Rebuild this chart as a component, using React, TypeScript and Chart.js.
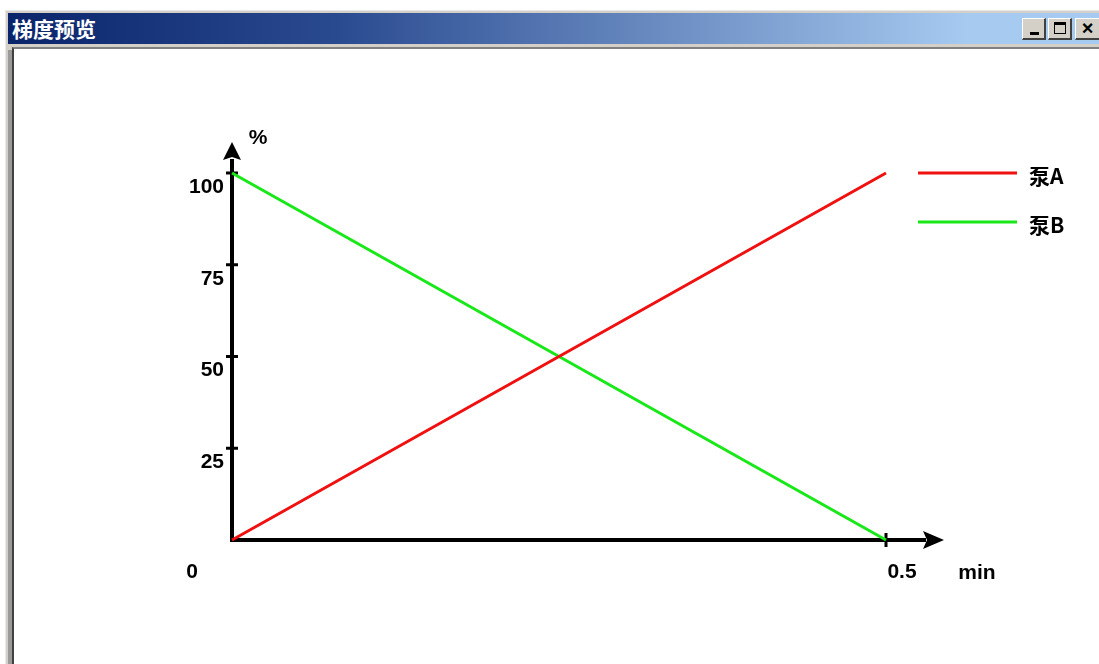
import React, { useEffect, useRef } from "react";
import { Chart, registerables } from "chart.js";

Chart.register(...registerables);

const windowTitle = "梯度预览";
const timeMin = [0, 0.5];
const pumpA = [0, 100];
const pumpB = [100, 0];
const seriesNames = ["泵A", "泵B"];
const seriesColors = ["#f01010", "#18e818"];
const yTickValues = [0, 25, 50, 75, 100];
const xTickLabels = ["0", "0.5"];
const yUnit = "%";
const xUnit = "min";

const LABEL_FONT = "bold 21px 'Liberation Sans', Arial, sans-serif";
const CJK_FONT = "bold 21px 'Noto Sans CJK SC', 'Liberation Sans', sans-serif";

const axesPlugin = {
  id: "gradAxes",
  beforeDatasetsDraw(chart: any) {
    const { ctx, scales } = chart;
    const xs = scales.x;
    const ys = scales.y;
    const x0 = xs.getPixelForValue(timeMin[0]);
    const x1 = xs.getPixelForValue(timeMin[timeMin.length - 1]);
    const y0 = ys.getPixelForValue(0);
    const yTop = ys.getPixelForValue(100);
    ctx.save();
    ctx.strokeStyle = "#000";
    ctx.fillStyle = "#000";
    ctx.lineWidth = 4;
    ctx.lineCap = "butt";
    // y axis
    ctx.beginPath();
    ctx.moveTo(x0, y0 + 2);
    ctx.lineTo(x0, yTop - 14);
    ctx.stroke();
    // y arrow
    ctx.beginPath();
    ctx.moveTo(x0, yTop - 31);
    ctx.lineTo(x0 + 9, yTop - 13);
    ctx.lineTo(x0, yTop - 16);
    ctx.lineTo(x0 - 9, yTop - 13);
    ctx.closePath();
    ctx.fill();
    // x axis
    ctx.beginPath();
    ctx.moveTo(x0 - 2, y0);
    ctx.lineTo(x1 + 40, y0);
    ctx.stroke();
    // x arrow
    ctx.beginPath();
    ctx.moveTo(x1 + 58, y0);
    ctx.lineTo(x1 + 37, y0 - 9);
    ctx.lineTo(x1 + 41, y0);
    ctx.lineTo(x1 + 37, y0 + 9);
    ctx.closePath();
    ctx.fill();
    // y tick marks
    ctx.lineWidth = 3;
    ys.ticks.forEach((t: any) => {
      if (t.value === 0) return;
      const py = ys.getPixelForValue(t.value);
      ctx.beginPath();
      ctx.moveTo(x0 - 6, py);
      ctx.lineTo(x0 + 6, py);
      ctx.stroke();
    });
    // x tick mark at end
    ctx.beginPath();
    ctx.moveTo(x1, y0 - 7);
    ctx.lineTo(x1, y0 + 7);
    ctx.stroke();

    // labels
    ctx.font = LABEL_FONT;
    ctx.textBaseline = "middle";
    ctx.textAlign = "right";
    ys.ticks.forEach((t: any) => {
      if (t.value === 0) return;
      const py = ys.getPixelForValue(t.value);
      ctx.fillText(String(t.value), x0 - 8, py + 14);
    });
    ctx.textAlign = "center";
    ctx.fillText(xTickLabels[0], x0 - 40, y0 + 32);
    ctx.fillText(xTickLabels[1], x1 + 16, y0 + 32);
    ctx.fillText(xUnit, x1 + 91, y0 + 33);
    ctx.fillText(yUnit, x0 + 26, yTop - 35);
    ctx.restore();
  },
  afterDatasetsDraw(chart: any) {
    const { ctx, chartArea } = chart;
    ctx.save();
    chart.data.datasets.forEach((ds: any, i: number) => {
      const ly = chartArea.top + i * 49;
      ctx.strokeStyle = ds.borderColor;
      ctx.lineWidth = 3;
      ctx.beginPath();
      ctx.moveTo(chartArea.right + 32, ly);
      ctx.lineTo(chartArea.right + 131, ly);
      ctx.stroke();
      ctx.fillStyle = "#000";
      ctx.font = CJK_FONT;
      ctx.textAlign = "left";
      ctx.textBaseline = "middle";
      ctx.fillText(ds.label, chartArea.right + 143, ly + 3);
    });
    ctx.restore();
  },
};

function GradientChart() {
  const ref = useRef<HTMLCanvasElement>(null);
  useEffect(() => {
    if (!ref.current) return;
    const chart = new Chart(ref.current, {
      type: "line",
      data: {
        datasets: [
          {
            label: seriesNames[0],
            data: timeMin.map((t, i) => ({ x: t, y: pumpA[i] })),
            borderColor: seriesColors[0],
            borderWidth: 3,
            pointRadius: 0,
            clip: 6,
          },
          {
            label: seriesNames[1],
            data: timeMin.map((t, i) => ({ x: t, y: pumpB[i] })),
            borderColor: seriesColors[1],
            borderWidth: 3,
            pointRadius: 0,
            clip: 6,
          },
        ],
      },
      options: {
        responsive: false,
        animation: false,
        devicePixelRatio: 1,
        layout: { padding: { left: 218, right: 213, top: 124, bottom: 124 } },
        plugins: { legend: { display: false }, tooltip: { enabled: false } },
        events: [],
        scales: {
          x: { type: "linear", min: timeMin[0], max: timeMin[timeMin.length - 1], display: false },
          y: {
            type: "linear",
            min: 0,
            max: 100,
            display: false,
            afterBuildTicks: (axis: any) => {
              axis.ticks = yTickValues.map((v) => ({ value: v }));
            },
          },
        },
      },
      plugins: [axesPlugin],
    } as any);
    return () => chart.destroy();
  }, []);
  return <canvas ref={ref} width={1085} height={615} style={{ position: "absolute", left: 14, top: 49, width: 1085, height: 615 }} />;
}

const btnStyle: React.CSSProperties = {
  position: "absolute",
  top: 18,
  width: 24,
  height: 22,
  boxSizing: "border-box",
  background: "#d4d0c8",
  borderTop: "1px solid #ffffff",
  borderLeft: "1px solid #ffffff",
  borderRight: "2px solid #404040",
  borderBottom: "2px solid #404040",
  color: "#000",
  fontFamily: "'Liberation Sans', Arial, sans-serif",
  fontWeight: "bold",
};

export default function App() {
  return (
    <div style={{ position: "fixed", left: 0, top: 0, width: 1099, height: 664, background: "#fff", overflow: "hidden" }}>
      {/* frame */}
      <div style={{ position: "absolute", left: 5, top: 10, width: 1200, height: 700, background: "#d4d0c8", borderTop: "1px solid #e8e8e8", borderLeft: "1px solid #e8e8e8" }} />
      <div style={{ position: "absolute", left: 8, top: 50, width: 4, height: 700, background: "#9a9a9a" }} />
      {/* title bar */}
      <div
        style={{
          position: "absolute",
          left: 8,
          top: 13,
          width: 1091,
          height: 31,
          background: "linear-gradient(to right, #0a246a 0%, #2a4a90 30%, #a6caf0 88%, #a6caf0 100%)",
        }}
      >
        <div
          style={{
            position: "absolute",
            left: 4,
            top: 3,
            color: "#fff",
            fontFamily: "'Noto Sans CJK SC', sans-serif",
            fontWeight: "bold",
            fontSize: 21,
            lineHeight: "25px",
            letterSpacing: 0,
          }}
        >
          {windowTitle}
        </div>
      </div>
      {/* buttons */}
      <div style={{ ...btnStyle, left: 1022 }}>
        <div style={{ position: "absolute", left: 7, top: 13, width: 9, height: 3, background: "#000" }} />
      </div>
      <div style={{ ...btnStyle, left: 1048 }}>
        <div style={{ position: "absolute", left: 5, top: 3, width: 12, height: 12, boxSizing: "border-box", borderTop: "3px solid #000", borderLeft: "1px solid #000", borderRight: "1px solid #000", borderBottom: "1px solid #000" }} />
      </div>
      <div style={{ ...btnStyle, left: 1075, width: 26, fontSize: 20, lineHeight: "18px", textAlign: "center" }}>×</div>
      {/* client area */}
      <div style={{ position: "absolute", left: 12, top: 47, width: 1200, height: 700, background: "#fff", borderTop: "2px solid #808080", borderLeft: "2px solid #404040" }} />
      <GradientChart />
    </div>
  );
}
